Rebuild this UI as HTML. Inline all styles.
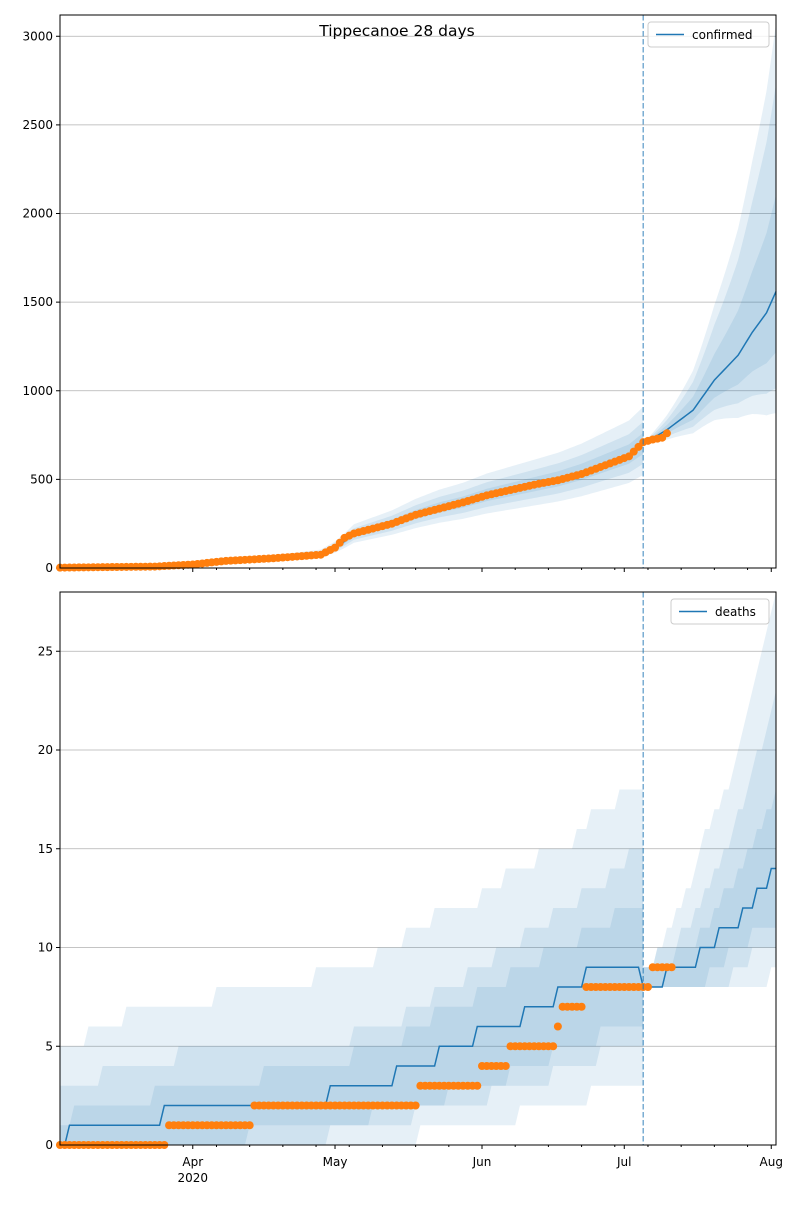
<!DOCTYPE html>
<html><head><meta charset="utf-8"><style>
body{margin:0;background:#fff;font-family:"Liberation Sans","DejaVu Sans",sans-serif}
svg text{font-family:"DejaVu Sans","Liberation Sans",sans-serif;font-size:12px;fill:#000}
</style></head><body>
<svg id="chart" width="800" height="1200" xmlns="http://www.w3.org/2000/svg"></svg>
<script>
// ---- data (day index from Mar 4, 2020) ----
const confMedDays=[0,20,28,35,45,55,58,60,62,70,75,80,85,90,95,100,105,110,115,120,123,128,133.5,138,143,146,149,151];
const confMedVals=[0,10,20,40,55,80,115,150,190,250,300,340,370,410,440,470,500,540,590,640,700,780,890,1060,1200,1330,1440,1560];
const confObsDays=[0,20,28,35,45,55,58,60,62,70,75,80,85,90,95,100,105,110,115,120,123,125,127,128];
const confObsVals=[2,8,20,40,55,75,115,170,195,250,300,335,370,410,440,470,495,530,580,630,710,725,735,760];
const confBandDays=[0,123,151];
const confOuterHi=[1.3,1.3,1.97],confOuterLo=[0.75,0.75,0.56];
const confMidHi=[1.18,1.18,1.75],confMidLo=[0.84,0.84,0.65];
const confInHi=[1.09,1.09,1.35],confInLo=[0.92,0.92,0.78];
const deathMedDays=[0,2,22,57,71,80,88,98,105,111,123,128,135,138.5,143.5,147,150];
const deathMedVals=[0,1,2,3,4,5,6,7,8,9,8,9,10,11,12,13,14];
const deathObsDays=[0,23,41,76,89,95,105,106,111,125];
const deathObsVals=[0,1,2,3,4,5,6,7,8,9];
const deathObsEnd=129;
// fit-period band edges (step functions: day of change, value)
const dOuterHiDays=[0,6,14,33,54,67,73,79,89,94,101,109,112,118], dOuterHiVals=[5,6,7,8,9,10,11,12,13,14,15,16,17,18];
const dOuterLoDays=[0,76,97,112], dOuterLoVals=[0,1,2,3];
const dMidHiDays=[0,9,25,62,73,79,86,92,98,104,110,116,120], dMidHiVals=[3,4,5,6,7,8,9,10,11,12,13,14,15];
const dMidLoDays=[0,57,75,91,104,114], dMidLoVals=[0,1,2,3,4,5];
const dInHiDays=[0,3,20,43,62,73,79,88,95,102,110,117], dInHiVals=[1,2,3,4,5,6,7,8,9,10,11,12];
const dInLoDays=[0,40,66,82,95,104,114], dInLoVals=[0,1,2,3,4,5,6];
// forecast-period band edges (knots, interpolated)
const fOuterHiDays=[123,124.4,128.6,132.9,135,139,142.3,144.5,147.6,149.7,151], fOuterHiVals=[9,9,11,13,15,17,19,22,25,27,28];
const fOuterLoDays=[123,148,151], fOuterLoVals=[8,8,9];
const fMidHiDays=[123,128.6,135,139,143.4,147.6,151], fMidHiVals=[9,10,12,14,17,20,23];
const fMidLoDays=[123,139,143.4,147.6,151], fMidLoVals=[8,8,9,10,10];
const fInHiDays=[123,126.5,132.9,137,141,145.5,151], fInHiVals=[9,9,10,11,13,15,18];
const fInLoDays=[123,135,138,143.4,147.6,151], fInLoVals=[8,8,9,10,11,11];
const forecastDay=123, lastDay=151;
const yTicksTop=[0,500,1000,1500,2000,2500,3000];
const yTicksBot=[0,5,10,15,20,25];
const monthDays=[28,58,89,119,150];
const monthLabels=["Apr","May","Jun","Jul","Aug"];

const svg=document.getElementById('chart');
const NS='http://www.w3.org/2000/svg';
function mk(tag,attrs,parent){const e=document.createElementNS(NS,tag);for(const k in attrs)e.setAttribute(k,attrs[k]);(parent||svg).appendChild(e);return e;}
function interp(ds,vs,d){if(d<=ds[0])return vs[0];for(let i=1;i<ds.length;i++){if(d<=ds[i]){const t=(d-ds[i-1])/(ds[i]-ds[i-1]);return vs[i-1]+t*(vs[i]-vs[i-1]);}}return vs[vs.length-1];}
function step(ds,vs,d){let v=vs[0];for(let i=0;i<ds.length;i++)if(d>=ds[i])v=vs[i];return v;}
const X0=60,X1=776;
const x=d=>X0+(X1-X0)*d/lastDay;
function panel(top,bot,ymax){return v=>bot-(bot-top)*v/ymax;}
const yT=panel(15,568,3120), yB=panel(592,1145,28);
function frame(top,bot,yFn,ticks,name,labels){
  const g=mk('g',{});
  ticks.forEach(t=>{const yy=yFn(t);
    const l=mk('line',{x1:X0,x2:X1,y1:yy,y2:yy,stroke:'#b0b0b0','stroke-width':0.8},g);
    mk('line',{x1:X0-4,x2:X0,y1:yy,y2:yy,stroke:'#000'},g);
    const tx=mk('text',{x:X0-7,y:yy+4,'text-anchor':'end'},g);tx.textContent=t;});
  for(let d=5;d<=lastDay;d+=7){mk('line',{x1:x(d),x2:x(d),y1:bot,y2:bot+2,stroke:'#000'},g);}
  monthDays.forEach((d,i)=>{mk('line',{x1:x(d),x2:x(d),y1:bot,y2:bot+4,stroke:'#000'},g);
    if(labels){const tx=mk('text',{x:x(d),y:bot+21,'text-anchor':'middle'},g);tx.textContent=monthLabels[i];}});
  if(labels){const t2=mk('text',{x:x(28),y:bot+37,'text-anchor':'middle'},g);t2.textContent='2020';}
  return g;
}
function band(days,hi,lo,yFn,name){
  const up=days.map(d=>[x(d),yFn(hi(d))]);
  const dn=days.slice().reverse().map(d=>[x(d),yFn(lo(d))]);
  const p=mk('polygon',{points:up.concat(dn).map(q=>q.join(',')).join(' '),fill:'#1f77b4','fill-opacity':0.11,stroke:'none'});
  
}
function range(a,b,s){const r=[];for(let d=a;d<=b+1e-9;d+=s)r.push(d);return r;}
function clipRect(top,bot,id){const cp=mk('clipPath',{id});mk('rect',{x:X0,y:top,width:X1-X0,height:bot-top},cp);}
clipRect(15,568,'cT');clipRect(592,1145,'cB');

// ---- top panel ----
frame(15,568,yT,yTicksTop,'confirmed',false);
const cm=d=>interp(confMedDays,confMedVals,d);
[[confOuterHi,confOuterLo,'outer'],[confMidHi,confMidLo,'middle'],[confInHi,confInLo,'inner']].forEach(([h,l,n])=>{
  const pre=range(0,forecastDay,0.5), post=range(forecastDay,lastDay,0.5);
  const hf=d=>cm(d)*interp(confBandDays,h,d), lf=d=>cm(d)*interp(confBandDays,l,d);
  const hf2=d=>cm(d)*(1+(interp(confBandDays,h,d)-1)*Math.pow((d-forecastDay)/(lastDay-forecastDay),0.8));
  const lf2=d=>cm(d)*(1+(interp(confBandDays,l,d)-1)*Math.pow((d-forecastDay)/(lastDay-forecastDay),0.8));
  band(pre,hf,lf,yT,'confirmed-band-'+n+'-fit');
  band(post,hf2,lf2,yT,'confirmed-band-'+n+'-forecast');
});
let pts=range(0,lastDay,0.5).map(d=>x(d)+','+yT(cm(d))).join(' ');
let ml=mk('polyline',{points:pts,fill:'none',stroke:'#1f77b4','stroke-width':1.5});

for(let d=0;d<=confObsDays[confObsDays.length-1];d++){
  const c=mk('circle',{cx:x(d),cy:yT(interp(confObsDays,confObsVals,d)),r:4,fill:'#ff7f0e'});
  
  
}
// ---- bottom panel ----
frame(592,1145,yB,yTicksBot,'deaths',true);
const dm=d=>step(deathMedDays,deathMedVals,d);
const fitDays=range(0,forecastDay,1), fcDays=range(forecastDay,lastDay,1);
[[dOuterHiDays,dOuterHiVals,dOuterLoDays,dOuterLoVals,'outer'],[dMidHiDays,dMidHiVals,dMidLoDays,dMidLoVals,'middle'],[dInHiDays,dInHiVals,dInLoDays,dInLoVals,'inner']].forEach(([hd,hv,ld,lv,n])=>{
  band(fitDays,d=>step(hd,hv,d),d=>step(ld,lv,d),yB,'deaths-band-'+n+'-fit');
});
[[fOuterHiDays,fOuterHiVals,fOuterLoDays,fOuterLoVals,'outer'],[fMidHiDays,fMidHiVals,fMidLoDays,fMidLoVals,'middle'],[fInHiDays,fInHiVals,fInLoDays,fInLoVals,'inner']].forEach(([hd,hv,ld,lv,n])=>{
  band(fcDays,d=>Math.round(interp(hd,hv,d)),d=>Math.round(interp(ld,lv,d)),yB,'deaths-band-'+n+'-forecast');
});
pts=range(0,lastDay,1).map(d=>x(d)+','+yB(dm(d))).join(' ');
ml=mk('polyline',{points:pts,fill:'none',stroke:'#1f77b4','stroke-width':1.5});

for(let d=0;d<=deathObsEnd;d++){
  const c=mk('circle',{cx:x(d),cy:yB(step(deathObsDays,deathObsVals,d)),r:4,fill:'#ff7f0e'});
  
  
}
// forecast lines, frames, legends, title
[[15,568],[592,1145]].forEach(([t,b])=>{
  const v=mk('line',{x1:x(forecastDay),x2:x(forecastDay),y1:t,y2:b,stroke:'#1f77b4','stroke-opacity':0.6,'stroke-width':1.5,'stroke-dasharray':'5.5,2.5'});
  
  const r=mk('rect',{x:X0,y:t,width:X1-X0,height:b-t,fill:'none',stroke:'#000','stroke-width':1});
  
});
function legend(xr,y,w,label,name){
  const g=mk('g',{});
  mk('rect',{x:xr-w,y:y,width:w,height:25,rx:3,fill:'#fff','fill-opacity':0.8,stroke:'#ccc'},g);
  mk('line',{x1:xr-w+8,x2:xr-w+36,y1:y+12.5,y2:y+12.5,stroke:'#1f77b4','stroke-width':1.5},g);
  const t=mk('text',{x:xr-w+44,y:y+17},g);t.textContent=label;
}
legend(769,22,121,'confirmed','legend-confirmed');
legend(769,599,98,'deaths','legend-deaths');
const ti=mk('text',{x:397,y:36,'text-anchor':'middle',style:'font-size:15.5px'});
ti.textContent='Tippecanoe 28 days';
</script>
</body></html>
